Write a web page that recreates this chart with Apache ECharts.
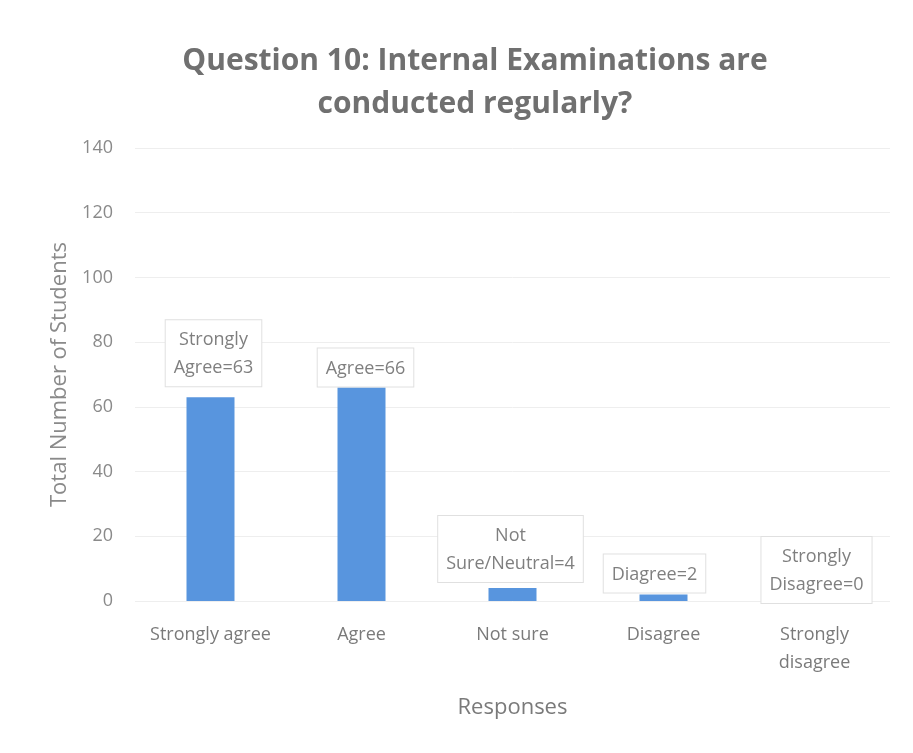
<!DOCTYPE html>
<html>
<head>
<meta charset="utf-8">
<script src="https://cdn.jsdelivr.net/npm/echarts@6/dist/echarts.min.js"></script>
<style>
  html, body { margin: 0; padding: 0; background: #fff; }
  #main { width: 913px; height: 753px; }
</style>
</head>
<body>
<div id="main"></div>
<script>
  // data
  var categories = ['Strongly agree', 'Agree', 'Not sure', 'Disagree', 'Strongly\ndisagree'];
  var counts = [63, 66, 4, 2, 0];
  var calloutTexts = ['Strongly\nAgree=63', 'Agree=66', 'Not\nSure/Neutral=4', 'Diagree=2', 'Strongly\nDisagree=0'];

  // label placement tweaks (px)
  var labelGaps = [11, 1, 6, 2, -2];
  var labelShiftX = [3, 4, -2, -9, 2];

  var chart = echarts.init(document.getElementById('main'));

  var seriesData = [];
  for (var i = 0; i < counts.length; i++) {
    seriesData.push({
      value: counts[i],
      label: {
        formatter: calloutTexts[i],
        distance: labelGaps[i],
        offset: [labelShiftX[i], 0]
      }
    });
  }

  chart.setOption({
    backgroundColor: '#fff',
    textStyle: { fontFamily: 'Open Sans' },
    title: {
      text: 'Question 10: Internal Examinations are\nconducted regularly?',
      left: 470,
      top: 35,
      textAlign: 'center',
      textStyle: {
        color: '#707070',
        fontSize: 30,
        fontWeight: 'bold',
        lineHeight: 43,
        fontFamily: 'Open Sans'
      }
    },
    grid: {
      left: 135,
      right: 23,
      top: 148,
      bottom: 152
    },
    xAxis: {
      type: 'category',
      data: categories,
      name: 'Responses',
      nameLocation: 'middle',
      nameGap: 96,
      nameTextStyle: { color: '#7a7a7a', fontSize: 22 },
      axisLine: { show: false },
      axisTick: { show: false },
      axisLabel: { color: '#7a7a7a', fontSize: 18, margin: 20, lineHeight: 28, interval: 0 }
    },
    yAxis: {
      type: 'value',
      min: 0,
      max: 140,
      interval: 20,
      name: 'Total Number of Students',
      nameLocation: 'middle',
      nameGap: 60,
      nameTextStyle: { color: '#8a8a8a', fontSize: 22 },
      axisLabel: { color: '#8a8a8a', fontSize: 18, margin: 22 },
      splitLine: { lineStyle: { color: '#eeeeee' } }
    },
    series: [{
      name: 'Responses',
      type: 'bar',
      barWidth: 48,
      itemStyle: { color: '#5895de' },
      label: {
        show: true,
        position: 'top',
        color: '#7f7f7f',
        fontSize: 18,
        lineHeight: 28,
        backgroundColor: '#ffffff',
        borderColor: '#e0e0e0',
        borderWidth: 1,
        padding: [6, 8, 4, 8]
      },
      data: seriesData
    }]
  });
</script>
</body>
</html>
